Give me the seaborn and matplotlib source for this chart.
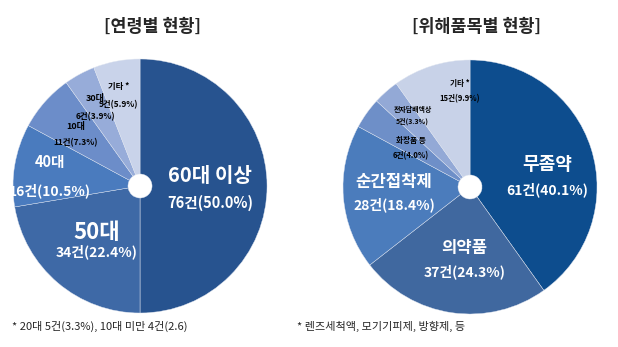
import numpy as np
import seaborn as sns
import matplotlib.pyplot as plt

# 연령별 현황
age_labels = ['60대 이상', '50대', '40대', '10대', '30대', '기타 *']
age_counts = [76, 34, 16, 11, 6, 9]
age_pcts = ['50.0', '22.4', '10.5', '7.3', '3.9', '5.9']

# 위해품목별 현황
item_labels = ['무좀약', '의약품', '순간접착제', '화장품 등', '전자담배액상', '기타 *']
item_counts = [61, 37, 28, 6, 5, 15]
item_pcts = ['40.1', '24.3', '18.4', '4.0', '3.3', '9.9']

titles = ['[연령별 현황]', '[위해품목별 현황]']
notes = ['* 20대 5건(3.3%), 10대 미만 4건(2.6)', '* 렌즈세척액, 모기기피제, 방향제, 등']

sns.set_theme(style='white')
plt.rcParams['font.family'] = ['Noto Sans CJK KR', 'DejaVu Sans']

W, H = 618, 347
fig = plt.figure(figsize=(W / 100, H / 100), dpi=100)
ax = fig.add_axes([0, 0, 1, 1])

R = 127
HOLE = 12

age_colors = ['#27538f', '#3e69a6', '#4a7bbe', '#6c8dc9', '#97acd9', '#c9d3ea']
item_colors = ['#0d4d8e', '#40689f', '#4b7cbc', '#6e8fc8', '#93a9d6', '#c8d2e8']

# label layout: (radial fraction, clockwise angle tweak deg, line gap px, name size, count size, colour)
age_layout = [
    (0.55, 2.5, 28, 14.5, 10.5, 'white'),
    (0.56, -2.5, 20, 16, 10, 'white'),
    (0.71, -3.3, 28, 10.5, 10, 'white'),
    (0.65, -2.9, 17, 6.5, 6, 'black'),
    (0.71, -1.4, 18, 6.5, 6, 'black'),
    (0.73, -2.6, 18, 6, 6, 'black'),
]
item_layout = [
    (0.61, 10.7, 25, 13, 10, 'white'),
    (0.575, -4.2, 24, 12, 10, 'white'),
    (0.60, 0, 23, 12, 10, 'white'),
    (0.56, -2.3, 16, 5.5, 5.5, 'black'),
    (0.72, 2.6, 12, 5, 5, 'black'),
    (0.76, 11.8, 16, 5.5, 5.5, 'black'),
]


def donut(center, counts, colors, explode_first, labels, pcts, layout):
    cx, cy = center
    explode = [explode_first] + [0] * (len(counts) - 1)
    wedges, _ = ax.pie(counts, colors=colors, startangle=90, counterclock=False,
                       center=(cx, cy), radius=R, explode=explode,
                       wedgeprops=dict(width=R - HOLE, edgecolor='#dfe5f0', linewidth=0.3))
    for w, name, pct, n, (rf, dth, gap, s1, s2, col) in zip(wedges, labels, pcts, counts, layout):
        mid = np.deg2rad((w.theta1 + w.theta2) / 2 - dth)
        x = cx + rf * R * np.cos(mid)
        y = cy + rf * R * np.sin(mid)
        ax.text(x, y + gap / 2, name, ha='center', va='center', fontsize=s1,
                fontweight='bold', color=col)
        ax.text(x, y - gap / 2, f'{n}건({pct}%)', ha='center', va='center', fontsize=s2,
                fontweight='bold', color=col)


donut((140, H - 186), age_counts, age_colors, 0.04, age_labels, age_pcts, age_layout)
donut((470, H - 187), item_counts, item_colors, 0.045, item_labels, item_pcts, item_layout)

ax.text(153, H - 27, titles[0], ha='center', va='center', fontsize=12.5, fontweight='bold')
ax.text(477, H - 27, titles[1], ha='center', va='center', fontsize=12.5, fontweight='bold')
ax.text(12, H - 326, notes[0], ha='left', va='center', fontsize=8)
ax.text(297, H - 326, notes[1], ha='left', va='center', fontsize=8)

ax.set_xlim(0, W)
ax.set_ylim(0, H)
ax.set_aspect('equal')
ax.axis('off')

fig.savefig('out.png', dpi=100)
